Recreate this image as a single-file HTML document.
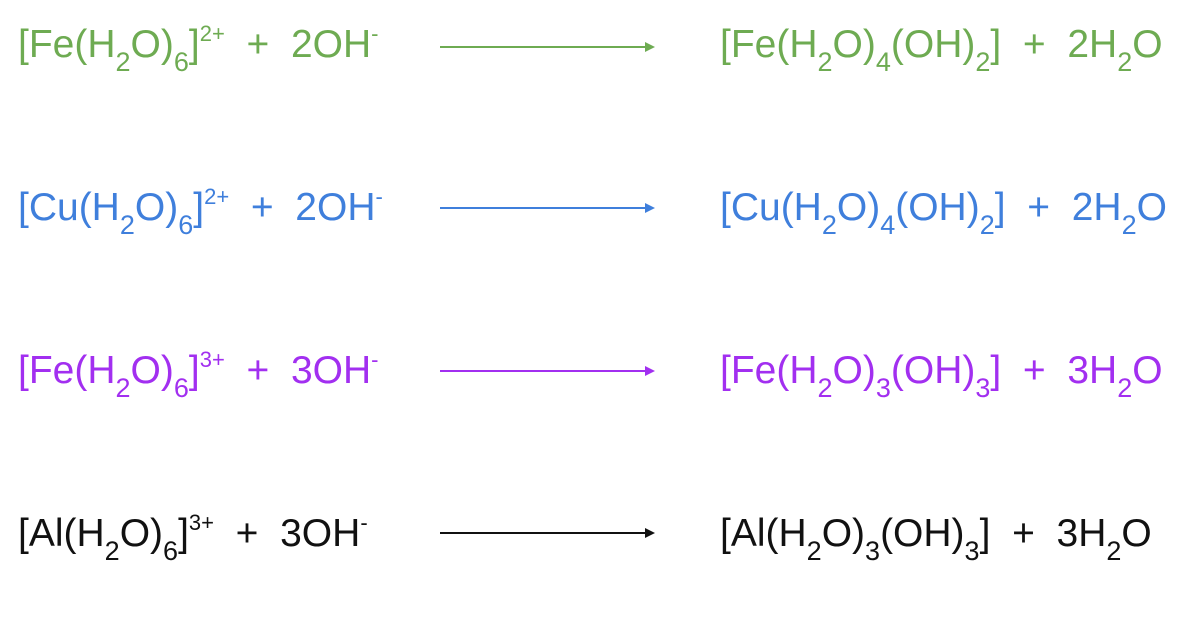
<!DOCTYPE html>
<html><head><meta charset="utf-8"><style>
html,body{margin:0;padding:0;background:#fff;}
body{width:1198px;height:642px;position:relative;overflow:hidden;font-family:"Liberation Sans",Arial,sans-serif;}
.t{position:absolute;font-size:39px;line-height:1;white-space:pre;}
.t sub{font-size:27px;vertical-align:-14px;line-height:0;}
.t sup{font-size:22px;vertical-align:16px;line-height:0;}
.a{position:absolute;height:2px;}
.a:after{content:"";position:absolute;right:-2px;top:-4px;border-left:10px solid currentColor;border-top:5px solid transparent;border-bottom:5px solid transparent;}
.g{color:#6eab52}.b{color:#3f7fdc}.p{color:#a22ff0}.k{color:#111}
</style></head><body>
<div class="t g" style="left:18px;top:25px">[Fe(H<sub>2</sub>O)<sub>6</sub>]<sup>2+</sup>  +  2OH<sup>-</sup></div>
<div class="a g" style="left:440px;width:213px;top:46px;background:#6eab52"></div>
<div class="t g" style="left:720px;top:25px">[Fe(H<sub>2</sub>O)<sub>4</sub>(OH)<sub>2</sub>]  +  2H<sub>2</sub>O</div>

<div class="t b" style="left:18px;top:188px">[Cu(H<sub>2</sub>O)<sub>6</sub>]<sup>2+</sup>  +  2OH<sup>-</sup></div>
<div class="a b" style="left:440px;width:213px;top:207px;background:#3f7fdc"></div>
<div class="t b" style="left:720px;top:188px">[Cu(H<sub>2</sub>O)<sub>4</sub>(OH)<sub>2</sub>]  +  2H<sub>2</sub>O</div>

<div class="t p" style="left:18px;top:351px">[Fe(H<sub>2</sub>O)<sub>6</sub>]<sup>3+</sup>  +  3OH<sup>-</sup></div>
<div class="a p" style="left:440px;width:213px;top:370px;background:#a22ff0"></div>
<div class="t p" style="left:720px;top:351px">[Fe(H<sub>2</sub>O)<sub>3</sub>(OH)<sub>3</sub>]  +  3H<sub>2</sub>O</div>

<div class="t k" style="left:18px;top:514px">[Al(H<sub>2</sub>O)<sub>6</sub>]<sup>3+</sup>  +  3OH<sup>-</sup></div>
<div class="a k" style="left:440px;width:213px;top:532px;background:#111"></div>
<div class="t k" style="left:720px;top:514px">[Al(H<sub>2</sub>O)<sub>3</sub>(OH)<sub>3</sub>]  +  3H<sub>2</sub>O</div>
</body></html>
